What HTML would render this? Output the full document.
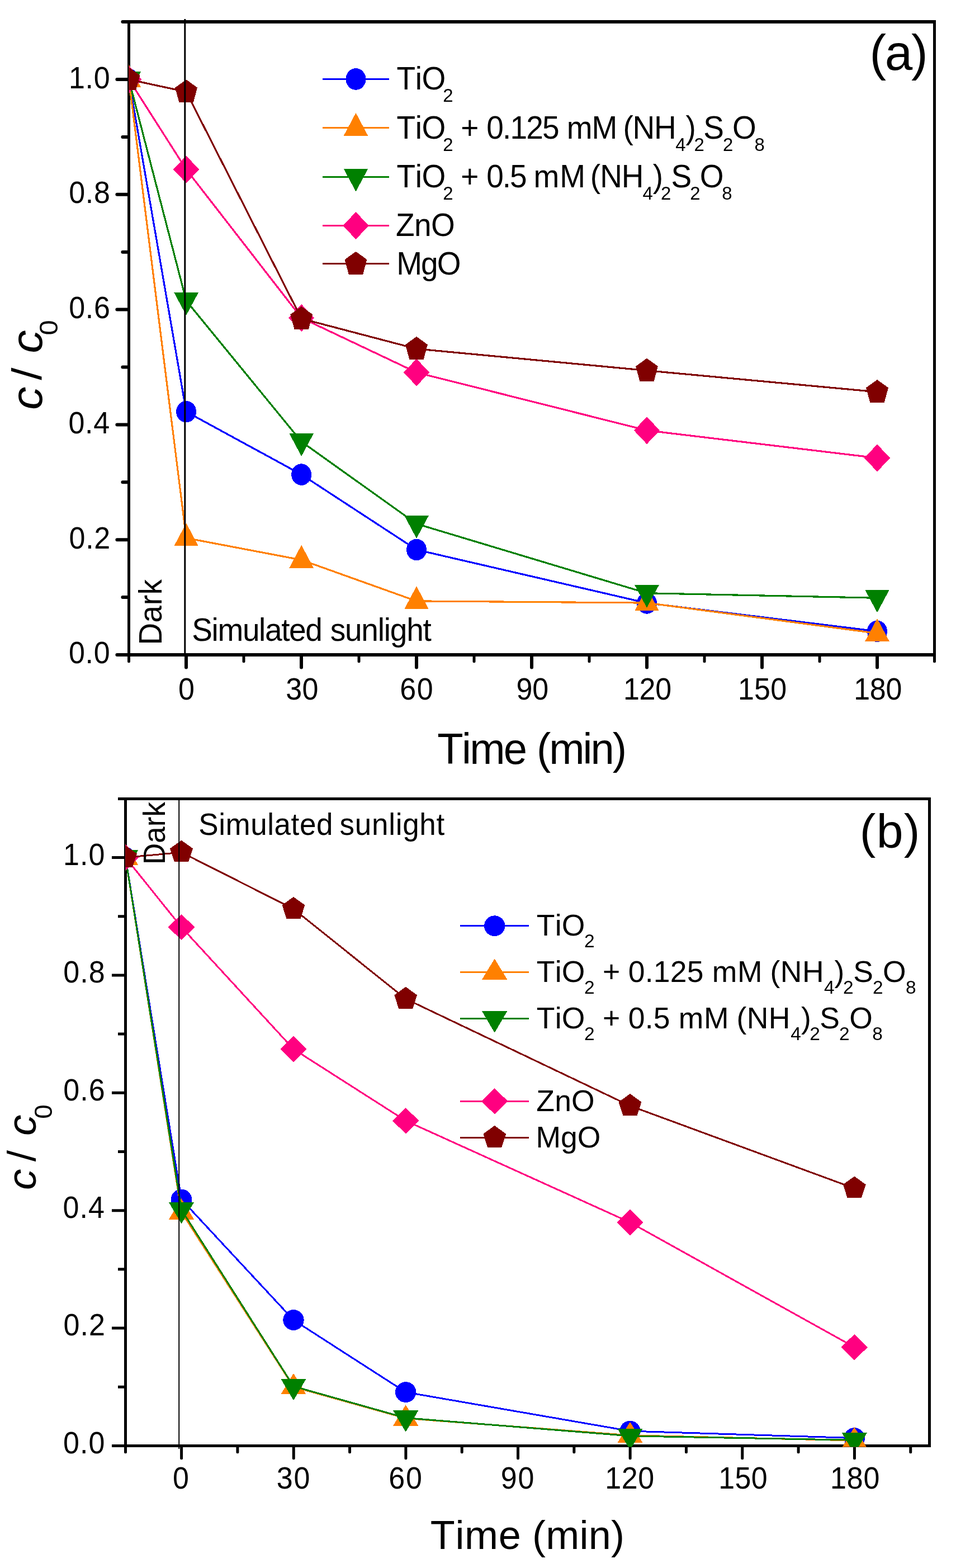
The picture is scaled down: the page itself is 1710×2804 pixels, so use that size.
<!DOCTYPE html>
<html lang="en"><head><meta charset="utf-8"><title>Photocatalytic degradation c/c0 vs time</title>
<style>html,body{margin:0;padding:0;background:#fff}body{width:1710px;height:2804px;overflow:hidden}svg{display:block}text{font-family:"Liberation Sans",Arial,Helvetica,sans-serif;fill:#000;font-kerning:none;white-space:pre}</style>
</head><body>
<svg width="1710" height="2804" viewBox="0 0 1710 2804" role="img" aria-label="c / c0 versus time for TiO2, ZnO and MgO photocatalysts">
<rect width="1710" height="2804" fill="#fff"/>
<g id="panel-a">
<g stroke="#000" fill="none">
<path stroke-width="6" d="M228 39H1674M228 1171H1674"/>
<path stroke-width="5" d="M230.5 36V1174M1671.5 36V1174"/>
<path stroke-width="6" stroke-linecap="round" d="M209.4 1171H229.5M219.4 1068.02H229.5M209.4 965.14H229.5M219.4 862.26H229.5M209.4 759.38H229.5M219.4 656.5H229.5M209.4 553.62H229.5M219.4 450.74H229.5M209.4 347.86H229.5M219.4 244.98H229.5M209.4 142.1H229.5M219.4 39H229.5"/>
<path stroke-width="6" stroke-linecap="round" d="M333 1171.5V1193.4M539.01 1171.5V1193.4M745.02 1171.5V1193.4M951.03 1171.5V1193.4M1157.04 1171.5V1193.4M1363.05 1171.5V1193.4M1569.06 1171.5V1193.4"/>
<path stroke-width="5" stroke-linecap="round" d="M230.5 1171.5V1182.8M436 1171.5V1182.8M642.01 1171.5V1182.8M848.02 1171.5V1182.8M1054.03 1171.5V1182.8M1260.05 1171.5V1182.8M1466.06 1171.5V1182.8M1671.5 1171.5V1182.8"/>
</g>
<clipPath id="ca"><rect x="230.5" y="39" width="1441" height="1134"/></clipPath>
<g clip-path="url(#ca)" shape-rendering="crispEdges">
<polyline points="230.5,142.1 333.1,736.2 539.2,848.6 745,983 1157,1078.4 1569,1128.9" fill="none" stroke="#0000ff" stroke-width="3.2"/>
<ellipse cx="230.5" cy="142.1" rx="18" ry="19.3" fill="#0000ff"/>
<ellipse cx="333.1" cy="736.2" rx="18" ry="19.3" fill="#0000ff"/>
<ellipse cx="539.2" cy="848.6" rx="18" ry="19.3" fill="#0000ff"/>
<ellipse cx="745" cy="983" rx="18" ry="19.3" fill="#0000ff"/>
<ellipse cx="1157" cy="1078.4" rx="18" ry="19.3" fill="#0000ff"/>
<ellipse cx="1569" cy="1128.9" rx="18" ry="19.3" fill="#0000ff"/>
<polyline points="230.5,142.1 333.1,962.1 539.2,1001.3 745,1074.9 1157,1078.1 1569,1132.5" fill="none" stroke="#ff8000" stroke-width="3.2"/>
<polygon points="230.5,115.4 252.2,156.3 208.8,156.3" fill="#ff8000"/>
<polygon points="333.1,935.4 354.8,976.3 311.4,976.3" fill="#ff8000"/>
<polygon points="539.2,974.6 560.9,1015.5 517.5,1015.5" fill="#ff8000"/>
<polygon points="745,1048.2 766.7,1089.1 723.3,1089.1" fill="#ff8000"/>
<polygon points="1157,1051.4 1178.7,1092.3 1135.3,1092.3" fill="#ff8000"/>
<polygon points="1569,1105.8 1590.7,1146.7 1547.3,1146.7" fill="#ff8000"/>
<polyline points="230.5,142.1 333.1,537.8 539.2,789.8 745,936.7 1157,1060.7 1569,1069.3" fill="none" stroke="#008000" stroke-width="3.2"/>
<polygon points="208.8,127.7 252.2,127.7 230.5,168.2" fill="#008000"/>
<polygon points="311.4,523.4 354.8,523.4 333.1,563.9" fill="#008000"/>
<polygon points="517.5,775.4 560.9,775.4 539.2,815.9" fill="#008000"/>
<polygon points="723.3,922.3 766.7,922.3 745,962.8" fill="#008000"/>
<polygon points="1135.3,1046.3 1178.7,1046.3 1157,1086.8" fill="#008000"/>
<polygon points="1547.3,1054.9 1590.7,1054.9 1569,1095.4" fill="#008000"/>
<polyline points="230.5,142.1 333.1,303 539.2,568.5 745,666 1157,769.7 1569,819" fill="none" stroke="#ff0080" stroke-width="3.2"/>
<polygon points="230.5,117.6 253.6,142.1 230.5,166.6 207.4,142.1" fill="#ff0080"/>
<polygon points="333.1,278.5 356.2,303 333.1,327.5 310,303" fill="#ff0080"/>
<polygon points="539.2,544 562.3,568.5 539.2,593 516.1,568.5" fill="#ff0080"/>
<polygon points="745,641.5 768.1,666 745,690.5 721.9,666" fill="#ff0080"/>
<polygon points="1157,745.2 1180.1,769.7 1157,794.2 1133.9,769.7" fill="#ff0080"/>
<polygon points="1569,794.5 1592.1,819 1569,843.5 1545.9,819" fill="#ff0080"/>
<polyline points="230.5,142.1 333.1,164.2 539.2,569.8 745,623.8 1157,662.6 1569,700.9" fill="none" stroke="#800000" stroke-width="3.2"/>
<polygon points="230.5,120.2 250.4,134.6 243.2,161.1 217.8,161.1 210.6,134.6" fill="#800000"/>
<polygon points="333.1,142.3 353,156.7 345.8,183.2 320.4,183.2 313.2,156.7" fill="#800000"/>
<polygon points="539.2,547.9 559.1,562.3 551.9,588.8 526.5,588.8 519.3,562.3" fill="#800000"/>
<polygon points="745,601.9 764.9,616.3 757.7,642.8 732.3,642.8 725.1,616.3" fill="#800000"/>
<polygon points="1157,640.7 1176.9,655.1 1169.7,681.6 1144.3,681.6 1137.1,655.1" fill="#800000"/>
<polygon points="1569,679 1588.9,693.4 1581.7,719.9 1556.3,719.9 1549.1,693.4" fill="#800000"/>
</g>
<line x1="330.8" y1="34" x2="330.8" y2="1171" stroke="#000" stroke-width="3"/>
<g shape-rendering="crispEdges">
<line x1="577.2" y1="141.5" x2="696.1" y2="141.5" stroke="#0000ff" stroke-width="3.2"/>
<ellipse cx="636.5" cy="141.5" rx="18" ry="19.3" fill="#0000ff"/>
<line x1="577.2" y1="228.5" x2="696.1" y2="228.5" stroke="#ff8000" stroke-width="3.2"/>
<polygon points="636.5,201.8 658.2,242.7 614.8,242.7" fill="#ff8000"/>
<line x1="577.2" y1="316.4" x2="696.1" y2="316.4" stroke="#008000" stroke-width="3.2"/>
<polygon points="614.8,302 658.2,302 636.5,342.5" fill="#008000"/>
<line x1="577.2" y1="403.5" x2="696.1" y2="403.5" stroke="#ff0080" stroke-width="3.2"/>
<polygon points="636.5,379 659.6,403.5 636.5,428 613.4,403.5" fill="#ff0080"/>
<line x1="577.2" y1="471.7" x2="696.1" y2="471.7" stroke="#800000" stroke-width="3.2"/>
<polygon points="636.5,449.8 656.4,464.2 649.2,490.7 623.8,490.7 616.6,464.2" fill="#800000"/>
</g>
<text transform="translate(0 1186.4) scale(1 1.07)"><tspan x="122.94 152.56 167.71" y="0" font-size="52">0.0</tspan></text>
<text transform="translate(0 980.64) scale(1 1.07)"><tspan x="123.53 153.15 168.3" y="0" font-size="52">0.2</tspan></text>
<text transform="translate(0 774.88) scale(1 1.07)"><tspan x="122.44 152.06 167.2" y="0" font-size="52">0.4</tspan></text>
<text transform="translate(0 569.12) scale(1 1.07)"><tspan x="123.2 152.82 167.97" y="0" font-size="52">0.6</tspan></text>
<text transform="translate(0 363.36) scale(1 1.07)"><tspan x="123.17 152.79 167.94" y="0" font-size="52">0.8</tspan></text>
<text transform="translate(0 157.6) scale(1 1.07)"><tspan x="122.94 152.56 167.71" y="0" font-size="52">1.0</tspan></text>
<text transform="translate(0 1251.2) scale(1 1.07)"><tspan x="318.97" y="0" font-size="52">0</tspan></text>
<text transform="translate(0 1251.2) scale(1 1.07)"><tspan x="511.32 540.51" y="0" font-size="52">30</tspan></text>
<text transform="translate(0 1251.2) scale(1 1.07)"><tspan x="715.26 745.81" y="0" font-size="52">60</tspan></text>
<text transform="translate(0 1251.2) scale(1 1.07)"><tspan x="923.56 952.21" y="0" font-size="52">90</tspan></text>
<text transform="translate(0 1251.2) scale(1 1.07)"><tspan x="1114.94 1143.58 1172.21" y="0" font-size="52">120</tspan></text>
<text transform="translate(0 1251.2) scale(1 1.07)"><tspan x="1320.04 1349.13 1378.21" y="0" font-size="52">150</tspan></text>
<text transform="translate(0 1251.2) scale(1 1.07)"><tspan x="1527.34 1555.88 1584.41" y="0" font-size="52">180</tspan></text>
<text transform="translate(0 1366) scale(1 1.02)"><tspan x="782.29 826.02 840.2 900.81" y="0" font-size="76">Time </tspan><tspan x="959.89 982.21 1042.53 1056.42 1095.7" y="0" font-size="76">(min)</tspan></text>
<text transform="translate(75 730.8) rotate(-90) scale(1 0.93)"><tspan x="-2.22" y="0" font-size="83" font-style="italic">c </tspan><tspan x="51" y="-1.08" font-size="80">/ </tspan><tspan x="98.98" y="0" font-size="83" font-style="italic">c</tspan><tspan x="131.39" y="30.27" font-size="49">0</tspan></text>
<text transform="translate(0 124.8)"><tspan x="1555.48 1582.75 1629.88" y="0" font-size="89">(a)</tspan></text>
<text transform="translate(289.3 1149.1) rotate(-90) scale(1 1.06)"><tspan x="-4.51 35.71 66.8 85.62" y="0" font-size="55">Dark</tspan></text>
<text transform="translate(0 1146.3) scale(1 1.06)"><tspan x="343.3 378.61 389.45 433.89 463.09 473.94 503.14 517.05 546.26" y="0" font-size="55">Simulated </tspan><tspan x="590.67 616.98 646.38 675.77 686.8 697.83 727.22 756.62" y="0" font-size="55">sunlight</tspan></text>
<text transform="translate(0 159.9) scale(1 1.03)"><tspan x="709.56 742.7 754.45" y="0" font-size="55">TiO</tspan><tspan x="792.24" y="21.26" font-size="33">2</tspan></text>
<text transform="translate(0 248.1) scale(1 1.03)"><tspan x="709.56 742.7 754.45" y="0" font-size="55">TiO</tspan><tspan x="792.24" y="21.26" font-size="33">2 </tspan><tspan x="824.21" y="0" font-size="55">+ </tspan><tspan x="870.35 899.07 912.48 941.2 969.92" y="0" font-size="55">0.125 </tspan><tspan x="1013.75 1058.6" y="0" font-size="55">mM </tspan><tspan x="1114.39 1131.53 1170.07" y="0" font-size="55">(NH</tspan><tspan x="1208.14" y="21.26" font-size="33">4</tspan><tspan x="1226.48" y="0" font-size="55">)</tspan><tspan x="1241.44" y="21.26" font-size="33">2</tspan><tspan x="1258.3" y="0" font-size="55">S</tspan><tspan x="1292.94" y="21.26" font-size="33">2</tspan><tspan x="1310" y="0" font-size="55">O</tspan><tspan x="1349.47" y="21.26" font-size="33">8</tspan></text>
<text transform="translate(0 335.1) scale(1 1.03)"><tspan x="709.56 742.7 754.45" y="0" font-size="55">TiO</tspan><tspan x="792.24" y="21.26" font-size="33">2 </tspan><tspan x="824.21" y="0" font-size="55">+ </tspan><tspan x="870.35 898.79 911.92" y="0" font-size="55">0.5 </tspan><tspan x="954.55 1001.2" y="0" font-size="55">mM </tspan><tspan x="1055.79 1073.13 1111.87" y="0" font-size="55">(NH</tspan><tspan x="1149.44" y="21.26" font-size="33">4</tspan><tspan x="1167.78" y="0" font-size="55">)</tspan><tspan x="1182.04" y="21.26" font-size="33">2</tspan><tspan x="1200.4" y="0" font-size="55">S</tspan><tspan x="1234.24" y="21.26" font-size="33">2</tspan><tspan x="1251.8" y="0" font-size="55">O</tspan><tspan x="1291.27" y="21.26" font-size="33">8</tspan></text>
<text transform="translate(0 421.8) scale(1 1.03)"><tspan x="707.95 740.96 770.95" y="0" font-size="55">ZnO</tspan></text>
<text transform="translate(0 490.7) scale(1 1.03)"><tspan x="709.19 753.08 781.75" y="0" font-size="55">MgO</tspan></text>
</g>
<g id="panel-b">
<g stroke="#000" fill="none">
<path stroke-width="5" d="M222 1428.5H1665M222 2585.5H1665"/>
<path stroke-width="5" d="M224.5 1426V2588M1662.5 1426V2588"/>
<path stroke-width="5" stroke-linecap="butt" d="M200 2585.5H223.5M211 2480.21H223.5M200 2375.02H223.5M211 2269.83H223.5M200 2164.64H223.5M211 2059.45H223.5M200 1954.26H223.5M211 1849.07H223.5M200 1743.88H223.5M211 1638.69H223.5M200 1533.5H223.5M211 1428.5H223.5"/>
<path stroke-width="5" stroke-linecap="round" d="M324.6 2586V2607.8M525.24 2586V2607.8M725.88 2586V2607.8M926.52 2586V2607.8M1127.16 2586V2607.8M1327.8 2586V2607.8M1528.44 2586V2607.8"/>
<path stroke-width="5" stroke-linecap="round" d="M224.5 2586V2596.7M424.92 2586V2596.7M625.56 2586V2596.7M826.2 2586V2596.7M1026.84 2586V2596.7M1227.48 2586V2596.7M1428.12 2586V2596.7M1628.76 2586V2596.7"/>
</g>
<clipPath id="cb"><rect x="224.5" y="1428.5" width="1438" height="1159"/></clipPath>
<g clip-path="url(#cb)" shape-rendering="crispEdges">
<polyline points="224.5,1533.5 324.5,2144.9 525,2360.5 725.7,2489.6 1127,2559.1 1528.3,2571.6" fill="none" stroke="#0000ff" stroke-width="3"/>
<ellipse cx="224.5" cy="1533.5" rx="18.7" ry="18.4" fill="#0000ff"/>
<ellipse cx="324.5" cy="2144.9" rx="18.7" ry="18.4" fill="#0000ff"/>
<ellipse cx="525" cy="2360.5" rx="18.7" ry="18.4" fill="#0000ff"/>
<ellipse cx="725.7" cy="2489.6" rx="18.7" ry="18.4" fill="#0000ff"/>
<ellipse cx="1127" cy="2559.1" rx="18.7" ry="18.4" fill="#0000ff"/>
<ellipse cx="1528.3" cy="2571.6" rx="18.7" ry="18.4" fill="#0000ff"/>
<polyline points="224.5,1533.5 324.5,2167.4 525,2480.1 725.7,2536.3 1127,2566.8 1528.3,2576" fill="none" stroke="#ff8000" stroke-width="3"/>
<polygon points="224.5,1509.4 247.1,1546.7 201.9,1546.7" fill="#ff8000"/>
<polygon points="324.5,2143.3 347.1,2180.6 301.9,2180.6" fill="#ff8000"/>
<polygon points="525,2456 547.6,2493.3 502.4,2493.3" fill="#ff8000"/>
<polygon points="725.7,2512.2 748.3,2549.5 703.1,2549.5" fill="#ff8000"/>
<polygon points="1127,2542.7 1149.6,2580 1104.4,2580" fill="#ff8000"/>
<polygon points="1528.3,2551.9 1550.9,2589.2 1505.7,2589.2" fill="#ff8000"/>
<polyline points="224.5,1533.5 324.5,2163.2 525,2479.1 725.7,2535.6 1127,2567.9 1528.3,2575.3" fill="none" stroke="#008000" stroke-width="3"/>
<polygon points="201.9,1520.3 247.1,1520.3 224.5,1558.6" fill="#008000"/>
<polygon points="301.9,2150 347.1,2150 324.5,2188.3" fill="#008000"/>
<polygon points="502.4,2465.9 547.6,2465.9 525,2504.2" fill="#008000"/>
<polygon points="703.1,2522.4 748.3,2522.4 725.7,2560.7" fill="#008000"/>
<polygon points="1104.4,2554.7 1149.6,2554.7 1127,2593" fill="#008000"/>
<polygon points="1505.7,2562.1 1550.9,2562.1 1528.3,2600.4" fill="#008000"/>
<polyline points="224.5,1533.5 324.5,1658 525,1876.1 725.7,2004.2 1127,2186 1528.3,2409.1" fill="none" stroke="#ff0080" stroke-width="3"/>
<polygon points="224.5,1510.3 248.3,1533.5 224.5,1556.7 200.7,1533.5" fill="#ff0080"/>
<polygon points="324.5,1634.8 348.3,1658 324.5,1681.2 300.7,1658" fill="#ff0080"/>
<polygon points="525,1852.9 548.8,1876.1 525,1899.3 501.2,1876.1" fill="#ff0080"/>
<polygon points="725.7,1981 749.5,2004.2 725.7,2027.4 701.9,2004.2" fill="#ff0080"/>
<polygon points="1127,2162.8 1150.8,2186 1127,2209.2 1103.2,2186" fill="#ff0080"/>
<polygon points="1528.3,2385.9 1552.1,2409.1 1528.3,2432.3 1504.5,2409.1" fill="#ff0080"/>
<polyline points="224.5,1533.5 324.5,1524.2 525,1625.4 725.7,1786.3 1127,1977.5 1528.3,2125.1" fill="none" stroke="#800000" stroke-width="3"/>
<polygon points="224.5,1511.9 244.9,1526.7 237.1,1550.7 211.9,1550.7 204.1,1526.7" fill="#800000"/>
<polygon points="324.5,1502.6 344.9,1517.4 337.1,1541.4 311.9,1541.4 304.1,1517.4" fill="#800000"/>
<polygon points="525,1603.8 545.4,1618.6 537.6,1642.6 512.4,1642.6 504.6,1618.6" fill="#800000"/>
<polygon points="725.7,1764.7 746.1,1779.5 738.3,1803.5 713.1,1803.5 705.3,1779.5" fill="#800000"/>
<polygon points="1127,1955.9 1147.4,1970.7 1139.6,1994.7 1114.4,1994.7 1106.6,1970.7" fill="#800000"/>
<polygon points="1528.3,2103.5 1548.7,2118.3 1540.9,2142.3 1515.7,2142.3 1507.9,2118.3" fill="#800000"/>
</g>
<line x1="320.2" y1="1428.7" x2="320.2" y2="2591" stroke="#000" stroke-width="2"/>
<g shape-rendering="crispEdges">
<line x1="823.2" y1="1655.7" x2="946.1" y2="1655.7" stroke="#0000ff" stroke-width="3"/>
<ellipse cx="884.7" cy="1655.7" rx="18.7" ry="18.4" fill="#0000ff"/>
<line x1="823.2" y1="1738.4" x2="946.1" y2="1738.4" stroke="#ff8000" stroke-width="3"/>
<polygon points="884.7,1714.3 907.3,1751.6 862.1,1751.6" fill="#ff8000"/>
<line x1="823.2" y1="1821.6" x2="946.1" y2="1821.6" stroke="#008000" stroke-width="3"/>
<polygon points="862.1,1808.4 907.3,1808.4 884.7,1846.7" fill="#008000"/>
<line x1="823.2" y1="1969.3" x2="946.1" y2="1969.3" stroke="#ff0080" stroke-width="3"/>
<polygon points="884.7,1946.1 908.5,1969.3 884.7,1992.5 860.9,1969.3" fill="#ff0080"/>
<line x1="823.2" y1="2034.5" x2="946.1" y2="2034.5" stroke="#800000" stroke-width="3"/>
<polygon points="884.7,2012.9 905.1,2027.7 897.3,2051.7 872.1,2051.7 864.3,2027.7" fill="#800000"/>
</g>
<text transform="translate(0 2598.8) scale(1 1.05)"><tspan x="112.94 142.96 158.51" y="0" font-size="52">0.0</tspan></text>
<text transform="translate(0 2388.42) scale(1 1.05)"><tspan x="113.53 143.55 159.1" y="0" font-size="52">0.2</tspan></text>
<text transform="translate(0 2178.04) scale(1 1.05)"><tspan x="112.44 142.46 158" y="0" font-size="52">0.4</tspan></text>
<text transform="translate(0 1967.66) scale(1 1.05)"><tspan x="113.2 143.22 158.77" y="0" font-size="52">0.6</tspan></text>
<text transform="translate(0 1757.28) scale(1 1.05)"><tspan x="113.17 143.19 158.74" y="0" font-size="52">0.8</tspan></text>
<text transform="translate(0 1546.9) scale(1 1.05)"><tspan x="112.94 142.96 158.51" y="0" font-size="52">1.0</tspan></text>
<text transform="translate(0 2662.3) scale(1 1.05)"><tspan x="308.97" y="0" font-size="52">0</tspan></text>
<text transform="translate(0 2662.3) scale(1 1.05)"><tspan x="494.72 525.51" y="0" font-size="52">30</tspan></text>
<text transform="translate(0 2662.3) scale(1 1.05)"><tspan x="695.16 726.01" y="0" font-size="52">60</tspan></text>
<text transform="translate(0 2662.3) scale(1 1.05)"><tspan x="895.86 926.51" y="0" font-size="52">90</tspan></text>
<text transform="translate(0 2662.3) scale(1 1.05)"><tspan x="1082.34 1111.83 1141.31" y="0" font-size="52">120</tspan></text>
<text transform="translate(0 2662.3) scale(1 1.05)"><tspan x="1285.34 1314.58 1343.81" y="0" font-size="52">150</tspan></text>
<text transform="translate(0 2662.3) scale(1 1.05)"><tspan x="1484.94 1514.68 1544.41" y="0" font-size="52">180</tspan></text>
<text transform="translate(0 2770.3)"><tspan x="769.78 814.44 831.11 891.76" y="0" font-size="72">Time </tspan><tspan x="952.04 976.28 1036.52 1052.78 1093.09" y="0" font-size="72">(min)</tspan></text>
<text transform="translate(64.4 2126) rotate(-90) scale(1 0.96)"><tspan x="-1.95" y="0" font-size="75" font-style="italic">c </tspan><tspan x="48.7" y="-1.46" font-size="73">/ </tspan><tspan x="94.95" y="0" font-size="75" font-style="italic">c</tspan><tspan x="125.3" y="29.48" font-size="46">0</tspan></text>
<text transform="translate(0 1516.1)"><tspan x="1537.67 1567.64 1616.79" y="0" font-size="86">(b)</tspan></text>
<text transform="translate(295.1 1541.7) rotate(-90) scale(1 1.03)"><tspan x="-4.35 33.95 63.45 81.12" y="0" font-size="53">Dark</tspan></text>
<text transform="translate(0 1493.1) scale(1 1.03)"><tspan x="355.29 391.2 403.53 448.23 478.27 490.6 520.63 535.91 565.94" y="0" font-size="53">Simulated </tspan><tspan x="607.52 634.75 664.95 695.16 707.66 720.16 750.36 780.56" y="0" font-size="53">sunlight</tspan></text>
<text transform="translate(0 1673.1)"><tspan x="959.8 992.67 1004.75" y="0" font-size="53.5">TiO</tspan><tspan x="1045.02" y="21" font-size="33.5">2</tspan></text>
<text transform="translate(0 1756.2)"><tspan x="959.8 992.67 1004.75" y="0" font-size="53.5">TiO</tspan><tspan x="1045.02" y="21" font-size="33.5">2 </tspan><tspan x="1078.09" y="0" font-size="53.5">+ </tspan><tspan x="1123.81 1153.75 1168.81 1198.75 1228.69" y="0" font-size="53.5">0.125 </tspan><tspan x="1273.65 1319.02" y="0" font-size="53.5">mM </tspan><tspan x="1377.38 1395.74 1434.93" y="0" font-size="53.5">(NH</tspan><tspan x="1474.03" y="21" font-size="33.5">4</tspan><tspan x="1492.49" y="0" font-size="53.5">)</tspan><tspan x="1508.02" y="21" font-size="33.5">2</tspan><tspan x="1526.27" y="0" font-size="53.5">S</tspan><tspan x="1560.92" y="21" font-size="33.5">2</tspan><tspan x="1579.07" y="0" font-size="53.5">O</tspan><tspan x="1620.04" y="21" font-size="33.5">8</tspan></text>
<text transform="translate(0 1839)"><tspan x="959.8 992.67 1004.75" y="0" font-size="53.5">TiO</tspan><tspan x="1045.02" y="21" font-size="33.5">2 </tspan><tspan x="1078.09" y="0" font-size="53.5">+ </tspan><tspan x="1123.81 1153.75 1168.79" y="0" font-size="53.5">0.5 </tspan><tspan x="1213.85 1259.12" y="0" font-size="53.5">mM </tspan><tspan x="1317.48 1335.69 1374.73" y="0" font-size="53.5">(NH</tspan><tspan x="1414.23" y="21" font-size="33.5">4</tspan><tspan x="1433.09" y="0" font-size="53.5">)</tspan><tspan x="1448.22" y="21" font-size="33.5">2</tspan><tspan x="1466.37" y="0" font-size="53.5">S</tspan><tspan x="1501.12" y="21" font-size="33.5">2</tspan><tspan x="1519.17" y="0" font-size="53.5">O</tspan><tspan x="1560.14" y="21" font-size="33.5">8</tspan></text>
<text transform="translate(0 1986.6)"><tspan x="959.3 992.14 1022.05" y="0" font-size="53.5">ZnO</tspan></text>
<text transform="translate(0 2052)"><tspan x="958.51 1003.08 1032.85" y="0" font-size="53.5">MgO</tspan></text>
</g>
</svg>
</body></html>
